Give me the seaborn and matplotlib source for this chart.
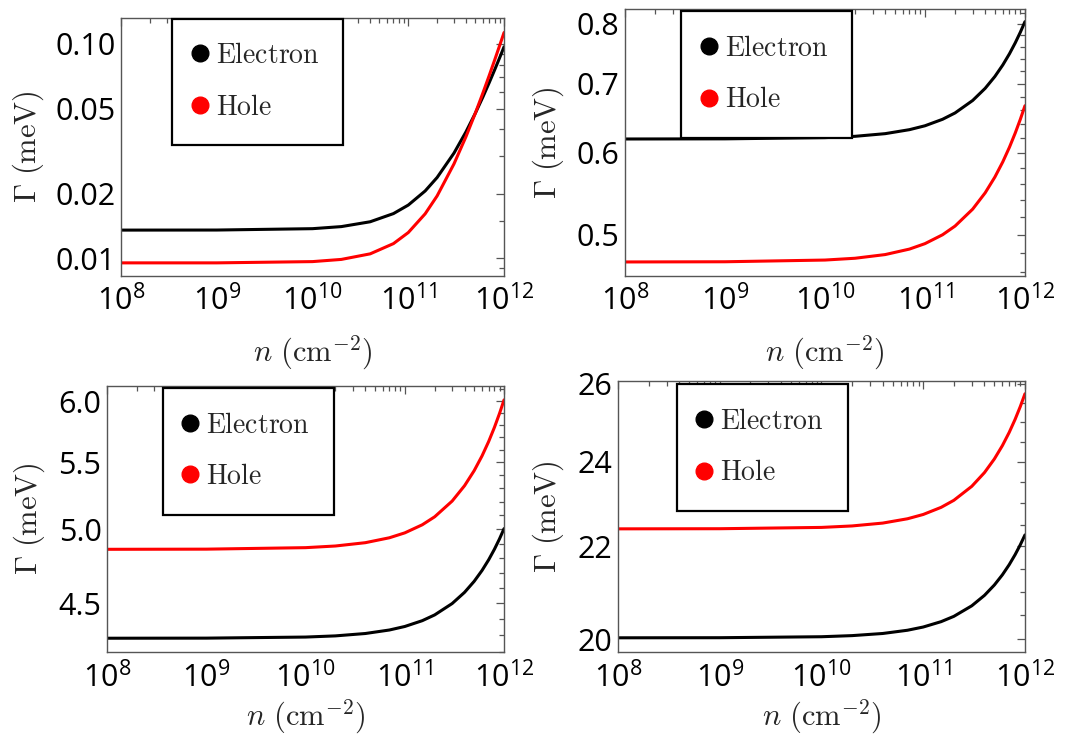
import numpy as np
import pandas as pd
import matplotlib
matplotlib.use("Agg")
import matplotlib.pyplot as plt
import seaborn as sns
from matplotlib.lines import Line2D
from matplotlib.ticker import FixedLocator, StrMethodFormatter, FuncFormatter, NullFormatter, LogLocator

# carrier density (cm^-2), shared by all four panels
density = [1e8, 1e9, 1e10, 2e10, 4e10, 7e10, 1e11, 1.5e11, 2e11, 3e11,
           4e11, 5e11, 6e11, 7e11, 8e11, 9e11, 1e12]

# panel 1 (top left)
electron_1 = [0.01356, 0.01357, 0.01377, 0.01408, 0.01483, 0.01619, 0.01774, 0.02064, 0.02385, 0.03099,
              0.03891, 0.04743, 0.05648, 0.06602, 0.07596, 0.08628, 0.09696]
hole_1 = [0.00954, 0.00954, 0.00967, 0.00990, 0.01051, 0.01173, 0.01321, 0.01615, 0.01957, 0.02760,
          0.03694, 0.04743, 0.05891, 0.07126, 0.08444, 0.09837, 0.11304]
# panel 2 (top right)
electron_2 = [0.6190, 0.6192, 0.6209, 0.6227, 0.6264, 0.6320, 0.6375, 0.6468, 0.6560, 0.6745,
              0.6930, 0.7115, 0.7300, 0.7485, 0.7670, 0.7855, 0.8040]
hole_2 = [0.4706, 0.4708, 0.4726, 0.4745, 0.4784, 0.4843, 0.4902, 0.5000, 0.5098, 0.5294,
          0.5490, 0.5686, 0.5882, 0.6078, 0.6274, 0.6470, 0.6666]
# panel 3 (bottom left)
electron_3 = [4.2831, 4.2837, 4.2902, 4.2974, 4.3119, 4.3335, 4.3552, 4.3913, 4.4274, 4.4996,
              4.5718, 4.6440, 4.7162, 4.7884, 4.8606, 4.9328, 5.0050]
hole_3 = [4.8601, 4.8612, 4.8715, 4.8830, 4.9060, 4.9405, 4.9750, 5.0325, 5.0900, 5.2050,
          5.3200, 5.4350, 5.5500, 5.6650, 5.7800, 5.8950, 6.0100]
# panel 4 (bottom right)
electron_4 = [20.030, 20.032, 20.052, 20.075, 20.119, 20.186, 20.253, 20.365, 20.476, 20.699,
              20.922, 21.145, 21.368, 21.591, 21.814, 22.037, 22.260]
hole_4 = [22.400, 22.403, 22.433, 22.467, 22.533, 22.633, 22.733, 22.900, 23.066, 23.399,
          23.732, 24.065, 24.398, 24.731, 25.064, 25.397, 25.730]

carriers = ["Electron", "Hole"]
carrier_colors = {"Electron": "black", "Hole": "red"}

x_major = [1e8, 1e9, 1e10, 1e11, 1e12]
y_major_1 = [0.01, 0.02, 0.05, 0.10]
y_major_2 = [0.5, 0.6, 0.7, 0.8]
y_major_3 = [4.5, 5.0, 5.5, 6.0]
y_major_4 = [20, 22, 24, 26]

sns.set_theme(style="white")
plt.rcParams["font.family"] = ["Open Sans", "DejaVu Sans"]
plt.rcParams["mathtext.fontset"] = "custom"
plt.rcParams["mathtext.rm"] = "Open Sans"
plt.rcParams["mathtext.it"] = "Open Sans:italic"
plt.rcParams["mathtext.bf"] = "Open Sans:bold"

frame_color = "#555555"
tick_size = 22

fig = plt.figure(figsize=(10.67, 7.40), dpi=100)


def draw_panel(rect, electron, hole, ylim, y_major, y_minor, y_fmt, leg_xy, ylab_x, xlab_y):
    ax = fig.add_axes(rect)
    df = pd.DataFrame({
        "n": density + density,
        "gamma": electron + hole,
        "carrier": [carriers[0]] * len(density) + [carriers[1]] * len(density),
    })
    sns.lineplot(data=df, x="n", y="gamma", hue="carrier", palette=carrier_colors,
                 linewidth=2.2, legend=False, ax=ax)
    ax.set_xscale("log")
    ax.set_yscale("log")
    ax.set_xlim(1e8, 1e12)
    ax.set_ylim(*ylim)

    ax.xaxis.set_major_locator(FixedLocator(x_major))
    ax.xaxis.set_minor_locator(LogLocator(base=10, subs=np.arange(2, 10)))
    ax.xaxis.set_major_formatter(FuncFormatter(lambda v, p: r"$10^{%d}$" % round(np.log10(v))))
    ax.xaxis.set_minor_formatter(NullFormatter())
    ax.yaxis.set_major_locator(FixedLocator(y_major))
    ax.yaxis.set_minor_locator(FixedLocator(y_minor))
    ax.yaxis.set_major_formatter(StrMethodFormatter(y_fmt))
    ax.yaxis.set_minor_formatter(NullFormatter())

    ax.tick_params(which="both", direction="in", top=True, right=True, color=frame_color, width=0.9)
    ax.tick_params(which="major", length=6)
    ax.tick_params(which="minor", length=3.5)
    ax.tick_params(axis="x", which="major", pad=7)
    ax.tick_params(axis="y", which="major", pad=4)
    for lab in ax.get_xticklabels() + ax.get_yticklabels():
        lab.set_fontsize(tick_size)
        lab.set_color("black")
    for s in ax.spines.values():
        s.set_color(frame_color)
        s.set_linewidth(1.0)

    ax.set_xlabel(r"$n\ (\mathrm{cm}^{-2})$", fontsize=22, math_fontfamily="cm")
    ax.set_ylabel(r"$\Gamma\ (\mathrm{meV})$", fontsize=22, math_fontfamily="cm")
    ax.xaxis.set_label_coords(0.5, xlab_y)
    ax.yaxis.set_label_coords(ylab_x, 0.5)

    handles = [Line2D([], [], ls="none", marker="o", ms=12, color=carrier_colors[c]) for c in carriers]
    leg = ax.legend(handles, [r"$\mathrm{Electron}$", r"$\mathrm{Hole}$"], loc="upper left",
                    bbox_to_anchor=leg_xy, borderaxespad=0, fontsize=20, frameon=True,
                    fancybox=False, edgecolor="black", framealpha=1, borderpad=0.85,
                    handlelength=0.3, handletextpad=0.42, labelspacing=0.85)
    leg.get_frame().set_linewidth(1.6)
    for t in leg.get_texts():
        t.set_math_fontfamily("cm")
    return ax


draw_panel([0.1134, 0.6277, 0.3590, 0.3473], electron_1, hole_1, (0.00833, 0.1314),
           y_major_1, [0.009, 0.015, 0.03, 0.04, 0.06, 0.07, 0.08, 0.09], "{x:.2f}",
           (0.133, 1.0), -0.196, -0.224)
draw_panel([0.5857, 0.6277, 0.3749, 0.3601], electron_2, hole_2, (0.4566, 0.827),
           y_major_2, np.arange(0.46, 0.83, 0.02), "{x:.1f}",
           (0.14, 0.9925), -0.1475, -0.2195)
draw_panel([0.1003, 0.1189, 0.3721, 0.3595], electron_3, hole_3, (4.20, 6.13),
           y_major_3, np.arange(4.2, 6.15, 0.1), "{x:.1f}",
           (0.14, 0.9925), -0.150, -0.172)
draw_panel([0.5792, 0.1189, 0.3814, 0.3662], electron_4, hole_4, (19.74, 26.07),
           y_major_4, np.arange(20.0, 26.1, 0.5), "{x:.0f}",
           (0.144, 0.989), -0.128, -0.169)

fig.savefig("out.png", dpi=100)
